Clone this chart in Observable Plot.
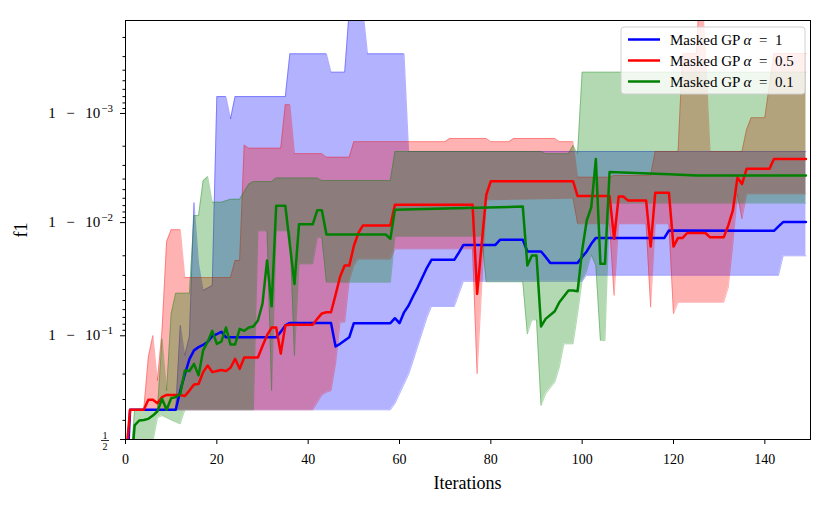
<!DOCTYPE html>
<html><head><meta charset="utf-8">
<script src="https://cdn.jsdelivr.net/npm/d3@7"></script>
<script src="https://cdn.jsdelivr.net/npm/@observablehq/plot@0.6"></script>
<style>body{margin:0;background:#fff} svg{display:block}</style>
</head><body><div id="chart"></div>
<script>
// All y values are logit(f1) = log10(f1 / (1 - f1)); pairs are [iteration, logit f1]
const blueMean = [[0,-0.63],[1,0.273],[11,0.273],[12,0.45],[13,0.6],[14,0.74],[15,0.82],[16,0.85],[17,0.87],[18,0.9],[19,0.95],[20,0.97],[21,0.99],[22,0.94],[33,0.94],[34,0.99],[35,1.05],[36,1.073],[45,1.073],[46,0.856],[47,0.88],[48,0.91],[49,0.94],[50,1.07],[58,1.07],[59,1.116],[60,1.07],[61,1.17],[62,1.233],[63,1.32],[64,1.40],[65,1.49],[66,1.58],[67,1.653],[72,1.653],[73,1.72],[74,1.79],[81,1.79],[82,1.837],[87,1.837],[88,1.73],[91,1.73],[92,1.68],[93,1.625],[99,1.625],[100,1.68],[101,1.73],[102,1.8],[103,1.855],[118,1.855],[119,1.923],[142,1.92],[143,1.96],[144,2.0],[149,2.0]];
const blueLower = [[0,-0.63],[1,0.273],[58,0.273],[59,0.33],[60,0.42],[61,0.51],[62,0.6],[63,0.727],[64,0.86],[65,0.99],[66,1.12],[67,1.224],[72,1.224],[73,1.34],[74,1.455],[100,1.455],[101,1.51],[143,1.51],[144,1.69],[149,1.69]];
const blueUpper = [[0,-0.63],[1,0.273],[11,0.273],[12,1.05],[13,0.773],[14,0.95],[15,2.18],[16,1.616],[17,1.37],[19,1.417],[20,3.155],[22,3.155],[23,2.95],[24,3.155],[35,3.155],[36,3.548],[44,3.548],[45,3.38],[48,3.38],[49,3.95],[50,4.1],[51,4.1],[52,3.95],[53,3.548],[61,3.548],[62,2.65],[149,2.65]];

const redMean = [[0,-0.2],[1,0.273],[4,0.273],[5,0.365],[6,0.365],[7,0.334],[8,0.39],[9,0.41],[12,0.41],[13,0.40],[14,0.45],[15,0.506],[16,0.51],[17,0.62],[18,0.68],[19,0.62],[20,0.63],[21,0.64],[22,0.63],[23,0.66],[24,0.742],[25,0.65],[26,0.755],[29,0.755],[30,0.86],[31,0.96],[32,1.03],[33,1.03],[34,0.79],[35,1.05],[36,1.055],[41,1.055],[42,1.11],[43,1.16],[44,1.171],[45,1.171],[46,1.33],[47,1.5],[48,1.6],[49,1.6],[50,1.78],[51,1.9],[52,1.97],[58,1.97],[59,2.16],[76,2.16],[77,1.34],[78,1.8],[79,2.25],[80,2.377],[98,2.377],[99,2.24],[106,2.24],[107,1.846],[108,2.236],[109,2.236],[110,2.2],[114,2.2],[115,1.775],[116,2.27],[119,2.27],[120,1.775],[121,1.855],[122,1.855],[123,1.9],[127,1.9],[128,1.86],[131,1.86],[132,1.97],[133,2.107],[134,2.41],[135,2.35],[136,2.49],[141,2.49],[142,2.58],[149,2.58]];
const redLower = [[0,-0.2],[1,0.273],[41,0.273],[43,0.41],[44,0.435],[45,0.45],[46,0.696],[47,1.08],[48,1.08],[49,1.463],[50,1.6],[51,1.66],[58,1.66],[59,1.754],[76,1.754],[77,0.604],[78,1.4],[79,2.205],[98,2.22],[99,1.985],[106,1.985],[107,1.325],[108,1.985],[114,1.985],[115,1.217],[116,1.985],[119,1.985],[120,1.156],[121,1.263],[131,1.263],[132,1.40],[133,1.80],[134,2.26],[135,2.03],[136,2.26],[149,2.26]];
const redUpper = [[0,-0.2],[1,0.273],[4,0.273],[5,0.757],[6,0.957],[7,0.543],[8,1.0],[9,1.82],[10,1.93],[12,1.93],[13,1.49],[23,1.49],[24,1.647],[25,1.647],[26,2.71],[27,2.68],[34,2.68],[35,3.08],[36,3.08],[37,2.63],[43,2.63],[44,2.597],[49,2.597],[50,2.74],[70,2.74],[71,2.77],[79,2.77],[80,2.74],[84,2.74],[85,2.77],[94,2.77],[95,2.74],[98,2.74],[99,2.413],[106,2.413],[107,2.43],[115,2.43],[116,2.65],[121,2.65],[122,3.55],[125,3.55],[126,4.3],[127,3.55],[128,2.65],[135,2.65],[136,2.85],[137,2.96],[140,2.96],[141,3.26],[142,3.55],[149,3.55]];

const greenMean = [[0,-1.2],[1,-0.4],[2,0.13],[3,0.175],[4,0.18],[5,0.19],[6,0.22],[7,0.26],[8,0.375],[9,0.273],[10,0.38],[11,0.39],[12,0.42],[13,0.635],[14,0.63],[15,0.696],[16,0.59],[17,0.82],[18,0.9],[19,1.0],[20,0.88],[21,0.9],[22,1.03],[23,0.874],[24,0.874],[25,1.018],[26,1.0],[27,1.03],[28,1.04],[29,1.095],[30,1.25],[31,1.647],[32,1.225],[33,2.15],[35,2.15],[37,1.43],[38,1.98],[41,1.98],[42,2.11],[43,2.11],[44,1.886],[57,1.886],[58,1.846],[59,2.113],[70,2.125],[87,2.143],[88,1.6],[89,1.693],[90,1.693],[91,1.04],[92,1.11],[94,1.18],[95,1.263],[97,1.37],[98,1.37],[99,1.364],[100,1.74],[101,2.015],[102,2.137],[103,2.58],[104,1.616],[105,1.616],[106,2.46],[119,2.44],[125,2.43],[149,2.43]];
const greenLower = [[0,-1.2],[1,-1.0],[5,-0.3],[6,-0.02],[7,0.2],[8,0.22],[9,0.2],[10,0.18],[11,0.16],[12,0.144],[13,0.273],[28,0.273],[29,1.92],[31,1.92],[32,0.45],[33,1.92],[36,1.92],[37,0.77],[38,1.616],[41,1.616],[42,1.86],[43,1.86],[44,1.447],[58,1.447],[59,1.87],[78,1.87],[79,1.45],[87,1.45],[88,0.97],[89,1.1],[90,1.1],[91,0.313],[92,0.42],[94,0.527],[95,0.665],[96,0.88],[98,0.88],[99,1.156],[100,1.463],[101,1.55],[102,1.7],[103,1.6],[104,0.91],[105,0.91],[106,2.175],[149,2.175]];
const greenUpper = [[0,-1.2],[1,-0.3],[2,0.273],[7,0.273],[8,0.926],[9,0.45],[10,1.156],[11,1.346],[14,1.346],[15,2.06],[16,2.06],[17,2.38],[18,2.42],[19,2.183],[21,2.183],[23,2.21],[25,2.21],[27,2.35],[28,2.373],[32,2.373],[33,2.405],[42,2.405],[43,2.383],[58,2.383],[59,2.65],[91,2.65],[92,2.63],[97,2.63],[98,2.705],[99,2.63],[100,3.38],[149,3.38]];

const alphaValues = ["1", "0.5", "0.1"];
const seriesColors = ["#0000ff", "#ff0000", "#008000"];

const xTicks = [0, 20, 40, 60, 80, 100, 120, 140];
const yMajorF1 = [0.5, 0.9, 0.99, 0.999];
const yMajorExp = [null, "−1", "−2", "−3"];
const yMinorF1 = [0.6, 0.7, 0.8,
  0.98, 0.97, 0.96, 0.95, 0.94, 0.93, 0.92, 0.91,
  0.998, 0.997, 0.996, 0.995, 0.994, 0.993, 0.992, 0.991,
  0.9998, 0.9997, 0.9996, 0.9995, 0.9994, 0.9993, 0.9992, 0.9991];

const logit = f => Math.log10(f / (1 - f));
const FONT = "Liberation Serif, Times New Roman, serif";

function bandRows(lower, upper) {
  const n = Math.max(lower.length, upper.length);
  const rows = [];
  for (let i = 0; i < n; i++) {
    const l = lower[Math.min(i, lower.length - 1)];
    const u = upper[Math.min(i, upper.length - 1)];
    rows.push({x1: l[0], y1: l[1], x2: u[0], y2: u[1]});
  }
  return rows;
}

const groups = [
  {mean: blueMean, lower: blueLower, upper: blueUpper, color: seriesColors[0]},
  {mean: redMean, lower: redLower, upper: redUpper, color: seriesColors[1]},
  {mean: greenMean, lower: greenLower, upper: greenUpper, color: seriesColors[2]}
];

const X = d => d[0], Y = d => d[1];
const marks = [];
for (const g of groups) {
  marks.push(Plot.area(bandRows(g.lower, g.upper), {x1: "x1", y1: "y1", x2: "x2", y2: "y2", fill: g.color, fillOpacity: 0.3, clip: true}));
  marks.push(Plot.line(g.lower, {x: X, y: Y, stroke: g.color, strokeOpacity: 0.3, strokeWidth: 1, clip: true}));
  marks.push(Plot.line(g.upper, {x: X, y: Y, stroke: g.color, strokeOpacity: 0.3, strokeWidth: 1, clip: true}));
}
for (const g of groups) {
  marks.push(Plot.line(g.mean, {x: X, y: Y, stroke: g.color, strokeWidth: 2.5, clip: true}));
}
marks.push(Plot.axisX(xTicks, {tickSize: 5, tickPadding: 10, label: null, fontSize: 14}));
marks.push(Plot.axisY(yMajorF1.map(logit), {tickSize: 5, tickFormat: () => "", label: null}));
marks.push(Plot.axisY(yMinorF1.map(logit), {tickSize: 2.5, tickFormat: () => "", label: null}));
marks.push(Plot.frame({stroke: "black", strokeWidth: 1}));

const plot = Plot.plot({
  width: 830, height: 513,
  marginLeft: 125, marginRight: 20, marginTop: 20, marginBottom: 74,
  x: {domain: [0, 150]},
  y: {domain: [0, 3.855]},
  style: {fontFamily: FONT, fontSize: "14px", background: "white", color: "black"},
  marks
});
document.getElementById("chart").appendChild(plot);

const svg = d3.select(plot);
const ys = plot.scale("y");
const xs = plot.scale("x");

// y tick labels with superscripts
const yl = svg.append("g").attr("font-family", FONT).attr("fill", "black");
yMajorF1.forEach((f, i) => {
  const py = ys.apply(logit(f));
  if (yMajorExp[i] === null) {
    const cx = 105;
    yl.append("text").attr("x", cx).attr("y", py - 0.5).attr("text-anchor", "middle").attr("font-size", 10).text("1");
    yl.append("line").attr("x1", cx - 4).attr("x2", cx + 4).attr("y1", py + 1.5).attr("y2", py + 1.5).attr("stroke", "black").attr("stroke-width", 0.8);
    yl.append("text").attr("x", cx).attr("y", py + 10.5).attr("text-anchor", "middle").attr("font-size", 10).text("2");
  } else {
    const t = yl.append("text").attr("x", 113).attr("y", py + 5).attr("text-anchor", "end").attr("font-size", 15);
    t.append("tspan").text("1\u2002\u2009−\u2002\u200910");
    t.append("tspan").attr("font-size", 11).attr("dy", -6).attr("dx", 1).text(yMajorExp[i]);
  }
});

// axis titles
svg.append("text").attr("x", (xs.range[0] + xs.range[1]) / 2).attr("y", 489).attr("text-anchor", "middle")
  .attr("font-family", FONT).attr("font-size", 18).attr("fill", "black").text("Iterations");
svg.append("text").attr("transform", "translate(27,230) rotate(-90)").attr("text-anchor", "middle")
  .attr("font-family", FONT).attr("font-size", 18).attr("fill", "black").text("f1");

// legend
const lg = svg.append("g").attr("font-family", FONT).attr("font-size", 15).attr("text-anchor", "start");
lg.append("rect").attr("x", 621).attr("y", 27).attr("width", 184).attr("height", 67).attr("rx", 3)
  .attr("fill", "white").attr("fill-opacity", 0.8).attr("stroke", "#d0d0d0");
alphaValues.forEach((a, i) => {
  const y = 39.5 + i * 21;
  lg.append("line").attr("x1", 628).attr("x2", 660).attr("y1", y).attr("y2", y)
    .attr("stroke", seriesColors[i]).attr("stroke-width", 2.5);
  const t = lg.append("text").attr("x", 670).attr("y", y + 5).attr("text-anchor", "start").attr("fill", "black");
  t.append("tspan").text("Masked GP ");
  t.append("tspan").attr("font-style", "italic").text("α");
  t.append("tspan").text("\u2002=\u2002" + a);
});
</script>
</body></html>
